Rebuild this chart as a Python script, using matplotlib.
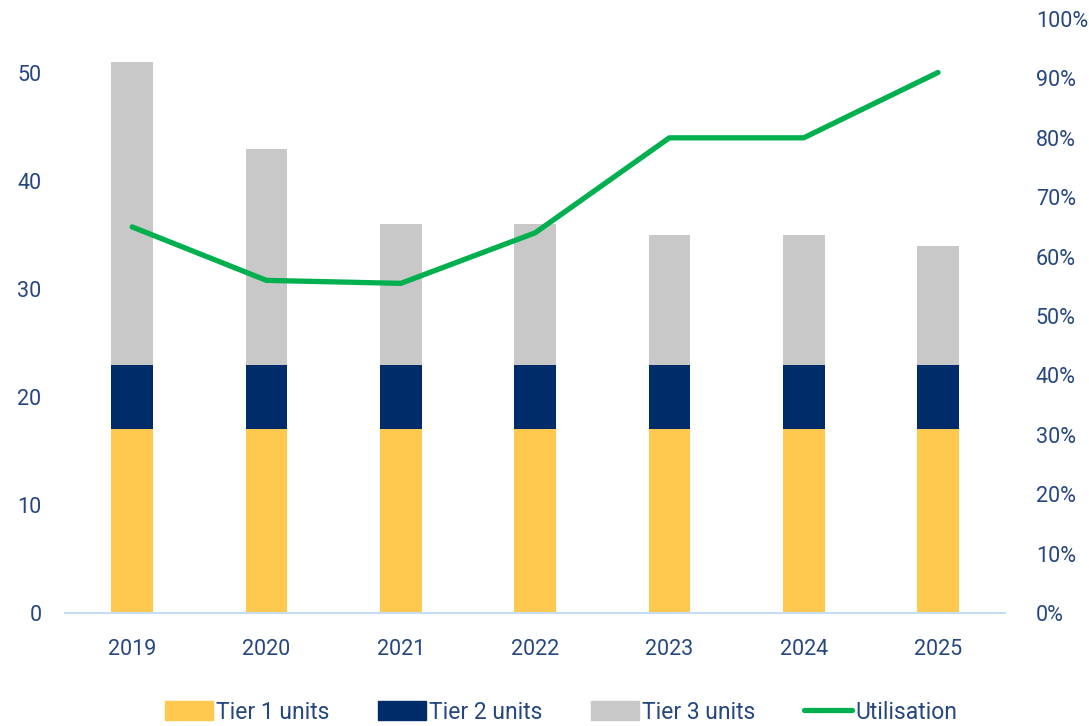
import numpy as np
import matplotlib.pyplot as plt
from matplotlib.ticker import PercentFormatter
from matplotlib.lines import Line2D
from matplotlib.patches import Patch

years = ["2019", "2020", "2021", "2022", "2023", "2024", "2025"]
tier1 = [17, 17, 17, 17, 17, 17, 17]
tier2 = [6, 6, 6, 6, 6, 6, 6]
tier3 = [28, 20, 13, 13, 12, 12, 11]
utilisation = [0.65, 0.56, 0.555, 0.64, 0.80, 0.80, 0.91]

c_t1 = "#ffc94f"
c_t2 = "#002d6a"
c_t3 = "#c8c8c8"
c_line = "#00b04f"
c_text = "#264680"

plt.rcParams['font.family'] = ['Roboto', 'DejaVu Sans']

fig = plt.figure(figsize=(10.89, 7.26), dpi=100)
ax = fig.add_axes([0.0597, 0.1556, 0.8633, 0.8182])
ax2 = ax.twinx()

x = np.arange(len(years))
w = 0.31
b2 = np.array(tier1)
b3 = b2 + np.array(tier2)
ax.bar(x, tier1, w, color=c_t1, zorder=2)
ax.bar(x, tier2, w, bottom=b2, color=c_t2, zorder=2)
ax.bar(x, tier3, w, bottom=b3, color=c_t3, zorder=2)

ax2.plot(x, utilisation, color=c_line, lw=3.8, solid_capstyle='round')

ax.set_xlim(-0.5, 6.5)
ax.set_ylim(0, 55)
ax.set_yticks(range(0, 51, 10))
ax2.set_ylim(0, 1)
ax2.set_yticks(np.linspace(0, 1, 11))
ax2.yaxis.set_major_formatter(PercentFormatter(1.0, decimals=0))

ax.set_xticks(x)
ax.set_xticklabels(years)

for a in (ax, ax2):
    for s in a.spines.values():
        s.set_visible(False)
    a.tick_params(length=0, labelsize=15.5, labelcolor=c_text)
ax.spines['bottom'].set_visible(True)
ax.spines['bottom'].set_color("#c5dcf5")
ax.spines['bottom'].set_linewidth(1.5)
ax.tick_params(axis='x', pad=19)
ax.tick_params(axis='y', pad=17)
ax2.tick_params(axis='y', pad=22)

handles = [
    Patch(color=c_t1, label="Tier 1 units"),
    Patch(color=c_t2, label="Tier 2 units"),
    Patch(color=c_t3, label="Tier 3 units"),
    Line2D([0], [0], color=c_line, lw=3.8, solid_capstyle='round', label="Utilisation"),
]
leg = fig.legend(handles=handles, loc='lower center', bbox_to_anchor=(0.515, -0.025),
                 ncol=4, frameon=False, fontsize=16.5, handlelength=2.1, handleheight=0.9,
                 handletextpad=0.15, columnspacing=2.1, labelcolor=c_text)

fig.savefig("out.png", dpi=100)
